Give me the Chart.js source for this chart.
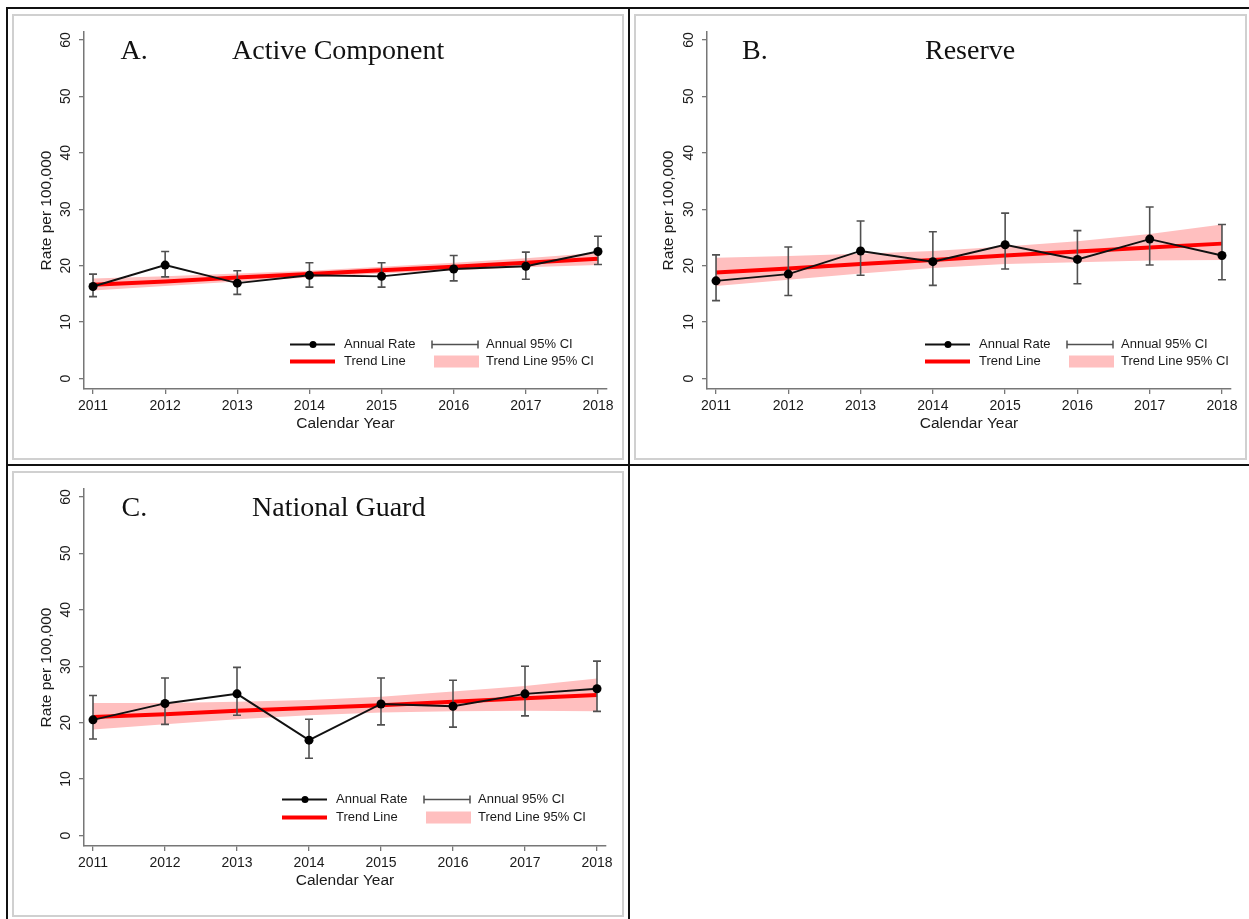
<!DOCTYPE html>
<html><head><meta charset="utf-8">
<script src="https://cdn.jsdelivr.net/npm/chart.js@4/dist/chart.umd.min.js"></script>
<style>
html,body{margin:0;padding:0;background:#fff;width:1249px;height:919px;overflow:hidden;}
.bl{position:absolute;background:#111;}
.frame{position:absolute;box-sizing:border-box;border:2px solid #d0d0d0;}
canvas{position:absolute;}
</style></head><body>
<div class="bl" style="left:6px;top:7px;width:1243px;height:2px"></div>
<div class="bl" style="left:6px;top:7px;width:2px;height:912px"></div>
<div class="bl" style="left:628px;top:7px;width:2px;height:912px"></div>
<div class="bl" style="left:6px;top:464px;width:1243px;height:2px"></div>
<div class="frame" style="left:12px;top:14px;width:612px;height:446px"></div>
<div class="frame" style="left:634px;top:14px;width:613px;height:446px"></div>
<div class="frame" style="left:12px;top:471px;width:612px;height:446px"></div>
<canvas id="cA" width="612" height="446" style="left:12px;top:14px"></canvas>
<canvas id="cB" width="612" height="446" style="left:634px;top:14px"></canvas>
<canvas id="cC" width="612" height="446" style="left:12px;top:471px"></canvas>
<script>
// ---- data ----
const years = [2011, 2012, 2013, 2014, 2015, 2016, 2017, 2018];
const yTicks = [0, 10, 20, 30, 40, 50, 60];
const legendLabels = ['Annual Rate', 'Annual 95% CI', 'Trend Line', 'Trend Line 95% CI'];
const xTitle = 'Calendar Year';
const yTitle = 'Rate per 100,000';

const activeRate    = [16.3, 20.1, 16.9, 18.3, 18.1, 19.4, 19.9, 22.5];
const activeLo      = [14.5, 18.0, 14.9, 16.2, 16.2, 17.3, 17.6, 20.2];
const activeHi      = [18.5, 22.5, 19.1, 20.5, 20.5, 21.8, 22.4, 25.2];
const activeTrend   = [16.6, 17.2, 17.9, 18.5, 19.2, 19.8, 20.5, 21.2];
const activeTrendLo = [15.6, 16.4, 17.2, 17.9, 18.6, 19.2, 19.7, 20.1];
const activeTrendHi = [17.7, 18.1, 18.6, 19.1, 19.8, 20.5, 21.3, 22.3];

const reserveRate    = [17.3, 18.5, 22.6, 20.7, 23.7, 21.1, 24.7, 21.8];
const reserveLo      = [13.8, 14.7, 18.3, 16.5, 19.4, 16.8, 20.1, 17.5];
const reserveHi      = [21.9, 23.3, 27.9, 26.0, 29.3, 26.2, 30.4, 27.3];
const reserveTrend   = [18.8, 19.5, 20.3, 21.0, 21.8, 22.5, 23.2, 23.9];
const reserveTrendLo = [16.4, 17.5, 18.6, 19.6, 20.3, 20.6, 20.9, 21.0];
const reserveTrendHi = [21.4, 21.7, 22.1, 22.6, 23.4, 24.3, 25.6, 27.3];

const guardRate    = [20.5, 23.4, 25.1, 16.9, 23.3, 22.9, 25.1, 26.0];
const guardLo      = [17.1, 19.7, 21.3, 13.7, 19.6, 19.2, 21.2, 22.0];
const guardHi      = [24.8, 27.9, 29.8, 20.6, 27.9, 27.5, 30.0, 30.9];
const guardTrend   = [21.0, 21.5, 22.1, 22.6, 23.1, 23.7, 24.3, 24.9];
const guardTrendLo = [18.8, 19.7, 20.6, 21.3, 21.8, 22.0, 22.1, 22.0];
const guardTrendHi = [23.5, 23.5, 23.7, 24.0, 24.6, 25.5, 26.5, 27.8];

// ---- styles ----
const SANS = '"Liberation Sans", Arial, sans-serif';
const SERIF = '"Liberation Serif", "Times New Roman", serif';
const TXT = '#1a1a1a';
const AXIS = '#777';
const BAND = '#ffbfbf';
const RED = '#ff0000';
const CI = '#505050';

function xy(vals) { return years.map((x, i) => ({ x: x, y: vals[i] })); }

function makePanel(canvasId, p) {
  const overlay = {
    id: 'overlay' + canvasId,
    afterDatasetDraw(chart, args) {
      if (args.index !== 1) return;
      const { ctx, scales: { x, y } } = chart;
      ctx.save();
      ctx.strokeStyle = CI; ctx.lineWidth = 1.6;
      years.forEach((yr, i) => {
        const px = x.getPixelForValue(yr);
        const t = y.getPixelForValue(p.hi[i]);
        const b = y.getPixelForValue(p.lo[i]);
        ctx.beginPath();
        ctx.moveTo(px, t); ctx.lineTo(px, b);
        ctx.moveTo(px - 4, t); ctx.lineTo(px + 4, t);
        ctx.moveTo(px - 4, b); ctx.lineTo(px + 4, b);
        ctx.stroke();
      });
      ctx.restore();
    },
    afterDraw(chart) {
      const { ctx, chartArea: a, scales: { y } } = chart;
      ctx.save();
      // titles
      const ty = y.getPixelForValue(60) + 19;
      ctx.fillStyle = '#111';
      ctx.font = '28px ' + SERIF;
      ctx.textBaseline = 'alphabetic';
      ctx.textAlign = 'left';
      ctx.fillText(p.label, a.left + p.labelDx, ty);
      ctx.fillText(p.title, a.left + p.titleDx, ty);
      // legend
      const lx = a.left + p.legendDx;
      const r1 = y.getPixelForValue(0) + p.rows[0];
      const r2 = y.getPixelForValue(0) + p.rows[1];
      // annual rate sample
      ctx.strokeStyle = '#111'; ctx.lineWidth = 2;
      ctx.beginPath(); ctx.moveTo(lx, r1); ctx.lineTo(lx + 45, r1); ctx.stroke();
      ctx.fillStyle = '#000';
      ctx.beginPath(); ctx.arc(lx + 23, r1, 3.5, 0, Math.PI * 2); ctx.fill();
      // CI sample
      ctx.strokeStyle = CI; ctx.lineWidth = 1.5;
      ctx.beginPath();
      ctx.moveTo(lx + 142, r1); ctx.lineTo(lx + 188, r1);
      ctx.moveTo(lx + 142, r1 - 4); ctx.lineTo(lx + 142, r1 + 4);
      ctx.moveTo(lx + 188, r1 - 4); ctx.lineTo(lx + 188, r1 + 4);
      ctx.stroke();
      // trend sample
      ctx.strokeStyle = RED; ctx.lineWidth = 4;
      ctx.beginPath(); ctx.moveTo(lx, r2); ctx.lineTo(lx + 45, r2); ctx.stroke();
      // band sample
      ctx.fillStyle = BAND;
      ctx.fillRect(lx + 144, r2 - 6, 45, 12);
      // texts
      ctx.fillStyle = TXT;
      ctx.font = '13px ' + SANS;
      ctx.textBaseline = 'middle';
      ctx.fillText(legendLabels[0], lx + 54, r1);
      ctx.fillText(legendLabels[1], lx + 196, r1);
      ctx.fillText(legendLabels[2], lx + 54, r2);
      ctx.fillText(legendLabels[3], lx + 196, r2);
      ctx.restore();
    }
  };

  return new Chart(document.getElementById(canvasId), {
    type: 'line',
    data: {
      datasets: [
        { data: xy(p.rate), borderColor: '#111', borderWidth: 1.9, pointRadius: 4.5,
          pointBackgroundColor: '#000', pointBorderWidth: 0, fill: false, tension: 0 },
        { data: xy(p.trend), borderColor: RED, borderWidth: 4, pointRadius: 0, fill: false, tension: 0 },
        { data: xy(p.tHi), borderColor: 'rgba(0,0,0,0)', borderWidth: 0, pointRadius: 0,
          backgroundColor: BAND, fill: '+1', tension: 0 },
        { data: xy(p.tLo), borderColor: 'rgba(0,0,0,0)', borderWidth: 0, pointRadius: 0, fill: false, tension: 0 }
      ]
    },
    options: {
      responsive: false,
      animation: false,
      events: [],
      layout: { padding: { left: 0, top: 18, right: p.padRight, bottom: 16 } },
      plugins: { legend: { display: false }, tooltip: { enabled: false }, title: { display: false } },
      scales: {
        x: {
          type: 'linear', min: 2010.875, max: 2018.125,
          afterBuildTicks: s => { s.ticks = years.map(v => ({ value: v })); },
          afterFit: s => { s.height = 55; },
          ticks: { callback: v => String(v), font: { family: SANS, size: 14 }, color: TXT,
                   padding: 4, maxRotation: 0, minRotation: 0, autoSkip: false },
          grid: { display: true, drawOnChartArea: false, drawTicks: true, tickLength: 5, color: AXIS, lineWidth: 1.3 },
          border: { display: true, color: AXIS, width: 1.5 },
          title: { display: true, text: xTitle, font: { family: SANS, size: 15.5 }, color: TXT,
                   padding: { top: 0, bottom: 10.7 } }
        },
        y: {
          type: 'linear', min: -1.86, max: 61.4,
          afterBuildTicks: s => { s.ticks = yTicks.map(v => ({ value: v })); },
          afterFit: s => { s.width = p.yWidth; },
          ticks: { font: { family: SANS, size: 14 }, color: TXT, padding: 5,
                   minRotation: 90, maxRotation: 90, crossAlign: 'center', autoSkip: false },
          grid: { display: true, drawOnChartArea: false, drawTicks: true, tickLength: 5, color: AXIS, lineWidth: 1.3 },
          border: { display: true, color: AXIS, width: 1.5 },
          title: { display: true, text: yTitle, font: { family: SANS, size: 15.5 }, color: TXT,
                   padding: { top: 25, bottom: 0 } }
        }
      }
    },
    plugins: [overlay]
  });
}

makePanel('cA', { label: 'A.', title: 'Active Component', labelDx: 36.5, titleDx: 148,
  legendDx: 206, rows: [-34, -17], yWidth: 72, padRight: 17,
  rate: activeRate, lo: activeLo, hi: activeHi, trend: activeTrend, tLo: activeTrendLo, tHi: activeTrendHi });
makePanel('cB', { label: 'B.', title: 'Reserve', labelDx: 35, titleDx: 218,
  legendDx: 218, rows: [-34, -17], yWidth: 73, padRight: 15,
  rate: reserveRate, lo: reserveLo, hi: reserveHi, trend: reserveTrend, tLo: reserveTrendLo, tHi: reserveTrendHi });
makePanel('cC', { label: 'C.', title: 'National Guard', labelDx: 37.5, titleDx: 168,
  legendDx: 198, rows: [-36, -18], yWidth: 72, padRight: 18,
  rate: guardRate, lo: guardLo, hi: guardHi, trend: guardTrend, tLo: guardTrendLo, tHi: guardTrendHi });
</script>
</body></html>
